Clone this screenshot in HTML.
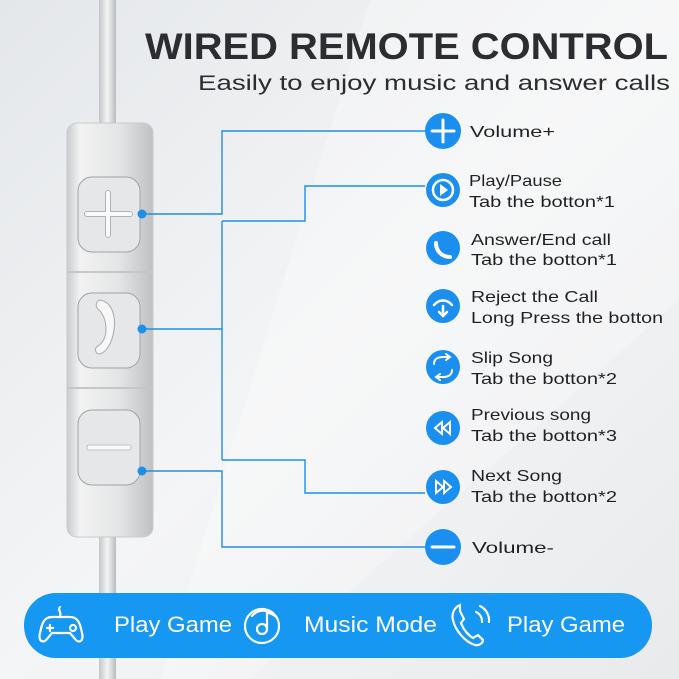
<!DOCTYPE html>
<html><head><meta charset="utf-8"><style>
html,body{margin:0;padding:0;width:679px;height:679px;overflow:hidden}
svg text{font-family:"Liberation Sans",sans-serif}
</style></head><body>
<svg width="679" height="679" viewBox="0 0 679 679" xmlns="http://www.w3.org/2000/svg">
<defs>
<linearGradient id="bg" x1="0" y1="0" x2="1" y2="1">
<stop offset="0" stop-color="#e4e7ea"/><stop offset="0.5" stop-color="#f4f5f6"/><stop offset="1" stop-color="#e8eaec"/>
</linearGradient>
<linearGradient id="body" x1="0" y1="0" x2="1" y2="0">
<stop offset="0" stop-color="#c9cbcd"/><stop offset="0.15" stop-color="#f2f2f2"/><stop offset="0.6" stop-color="#e4e5e6"/><stop offset="1" stop-color="#bfc1c3"/>
</linearGradient>
<linearGradient id="cab" x1="0" y1="0" x2="1" y2="0">
<stop offset="0" stop-color="#c4c6c8"/><stop offset="0.5" stop-color="#f4f4f4"/><stop offset="1" stop-color="#b8babc"/>
</linearGradient>
</defs>
<rect width="679" height="679" fill="url(#bg)"/>
<polygon points="370,0 679,0 679,300 250,679 160,679" fill="#ffffff" opacity="0.25"/>
<rect x="99" y="0" width="17" height="125" fill="url(#cab)"/>
<rect x="99" y="535" width="17" height="144" fill="url(#cab)"/>
<rect x="67" y="123" width="86" height="414" rx="10" fill="url(#body)" stroke="#c8cacc"/>
<line x1="67" y1="272" x2="153" y2="272" stroke="#c4c6c8" stroke-width="2"/>
<line x1="67" y1="388" x2="153" y2="388" stroke="#c4c6c8" stroke-width="2"/>
<rect x="78" y="177" width="62" height="75" rx="14" fill="#e6e7e8" stroke="#a0a2a4"/>
<rect x="78" y="293" width="62" height="75" rx="14" fill="#e6e7e8" stroke="#a0a2a4"/>
<rect x="78" y="410" width="62" height="75" rx="14" fill="#e6e7e8" stroke="#a0a2a4"/>
<path d="M87 214H130M108 193V235" stroke="#b0b2b4" stroke-width="6" stroke-linecap="round"/>
<path d="M87 214H130M108 193V235" stroke="#fafafa" stroke-width="4" stroke-linecap="round"/>
<path d="M100 300c12 2 16 16 14 30c-2 14 -8 22 -14 24c-5 0 -6 -6 -2 -8c6 -4 8 -10 8 -17c0 -8 -3 -16 -8 -20c-3 -3 -2 -8 2 -9z" fill="#f8f8f8" stroke="#a8aaac"/>
<rect x="87" y="445" width="44" height="5" rx="2" fill="#fafafa" stroke="#b0b2b4" stroke-width="0.8"/>
<g stroke="#1d8fe8" stroke-width="1.4" fill="none">
<path d="M142 214H222V131H425"/>
<path d="M222 221H305V186H425"/>
<path d="M222 221V460"/>
<path d="M142 329H222"/>
<path d="M222 460H305V493H425"/>
<path d="M142 471H222V547H425"/>
</g>
<g fill="#1d8fe8">
<circle cx="142" cy="214" r="4.5"/><circle cx="142" cy="329" r="4.5"/><circle cx="142" cy="471" r="4.5"/>
</g>
<text x="145" y="59" font-size="37" font-weight="bold" fill="#2b2d30" textLength="523" lengthAdjust="spacingAndGlyphs">WIRED REMOTE CONTROL</text>
<text x="198" y="90" font-size="21" fill="#2b2d30" textLength="472" lengthAdjust="spacingAndGlyphs">Easily to enjoy music and answer calls</text>
<g fill="#1a8ff0">
<circle cx="443" cy="131" r="18"/>
<circle cx="443" cy="190" r="17"/>
<circle cx="443" cy="248" r="17"/>
<circle cx="443" cy="306" r="17"/>
<circle cx="443" cy="367" r="17"/>
<circle cx="443" cy="428" r="17"/>
<circle cx="443" cy="487" r="17"/>
<circle cx="443" cy="547" r="18"/>
</g>
<g stroke="#fff" stroke-width="3" fill="none" stroke-linecap="round">
<path d="M432 131H454M443 120V142"/>
<circle cx="443" cy="190" r="10" stroke-width="2.5"/>
<path d="M432 547H454"/>
<path d="M436 243c0 8 6 14 14 14" stroke-width="4"/>
<path d="M434 305c5-6 13-6 18 0M443 306v10M439 312l4 4 4-4" stroke-width="2.5"/>
<path d="M434 364c0-5 4-7 9-7h6M446 354l4 3-4 3M452 370c0 5-4 7-9 7h-6M440 380l-4-3 4-3" stroke-width="2"/>
<path d="M442 422l-7 6 7 6zM450 422l-7 6 7 6z" stroke-width="2"/>
<path d="M436 481l7 6-7 6zM444 481l7 6-7 6z" stroke-width="2"/>
</g>
<path d="M440 184l8 6-8 6z" fill="#fff"/>
<g font-size="16" fill="#1f2124">
<text x="470" y="137" textLength="85" lengthAdjust="spacingAndGlyphs">Volume+</text>
<text x="469" y="186" textLength="93" lengthAdjust="spacingAndGlyphs">Play/Pause</text>
<text x="469" y="207" textLength="146" lengthAdjust="spacingAndGlyphs">Tab the botton*1</text>
<text x="471" y="245" textLength="140" lengthAdjust="spacingAndGlyphs">Answer/End call</text>
<text x="471" y="265" textLength="146" lengthAdjust="spacingAndGlyphs">Tab the botton*1</text>
<text x="471" y="302" textLength="127" lengthAdjust="spacingAndGlyphs">Reject the Call</text>
<text x="471" y="323" textLength="192" lengthAdjust="spacingAndGlyphs">Long Press the botton</text>
<text x="471" y="363" textLength="82" lengthAdjust="spacingAndGlyphs">Slip Song</text>
<text x="471" y="384" textLength="146" lengthAdjust="spacingAndGlyphs">Tab the botton*2</text>
<text x="471" y="420" textLength="120" lengthAdjust="spacingAndGlyphs">Previous song</text>
<text x="471" y="441" textLength="146" lengthAdjust="spacingAndGlyphs">Tab the botton*3</text>
<text x="471" y="481" textLength="91" lengthAdjust="spacingAndGlyphs">Next Song</text>
<text x="471" y="502" textLength="146" lengthAdjust="spacingAndGlyphs">Tab the botton*2</text>
<text x="472" y="553" textLength="82" lengthAdjust="spacingAndGlyphs">Volume-</text>
</g>
<rect x="24" y="593" width="628" height="65" rx="32" fill="#1597f2"/>
<g stroke="#fff" stroke-width="2.2" fill="none" stroke-linecap="round">
<path d="M60 607c-3 3 2 5 0 9"/>
<path d="M52 617h18c8 0 10 6 12 16c2 8-3 11-7 6l-5-6h-18l-5 6c-4 5-9 2-7-6c2-10 4-16 12-16z"/>
<path d="M50 625v6M47 628h6"/>
<circle cx="73" cy="628" r="3"/>
<circle cx="262" cy="626" r="17"/>
<path d="M252 616a14 14 0 0 1 20 -2"/>
<path d="M267 612v17"/><circle cx="262" cy="629" r="5"/>
<path d="M267 612c3 2 6 2 8 4"/>
<path d="M460 605c-5 2-9 8-7 15c2 10 12 22 22 25c4 1 8-2 8-5l-5-5l-5 3c-5-3-10-9-12-15l3-4l-4-8z"/>
<path d="M476 612a10 10 0 0 1 6 10M480 606a16 16 0 0 1 9 16"/>
</g>
<g font-size="22" fill="#fff">
<text x="114" y="632" textLength="118" lengthAdjust="spacingAndGlyphs">Play Game</text>
<text x="304" y="632" textLength="133" lengthAdjust="spacingAndGlyphs">Music Mode</text>
<text x="507" y="632" textLength="118" lengthAdjust="spacingAndGlyphs">Play Game</text>
</g>
</svg>
</body></html>
